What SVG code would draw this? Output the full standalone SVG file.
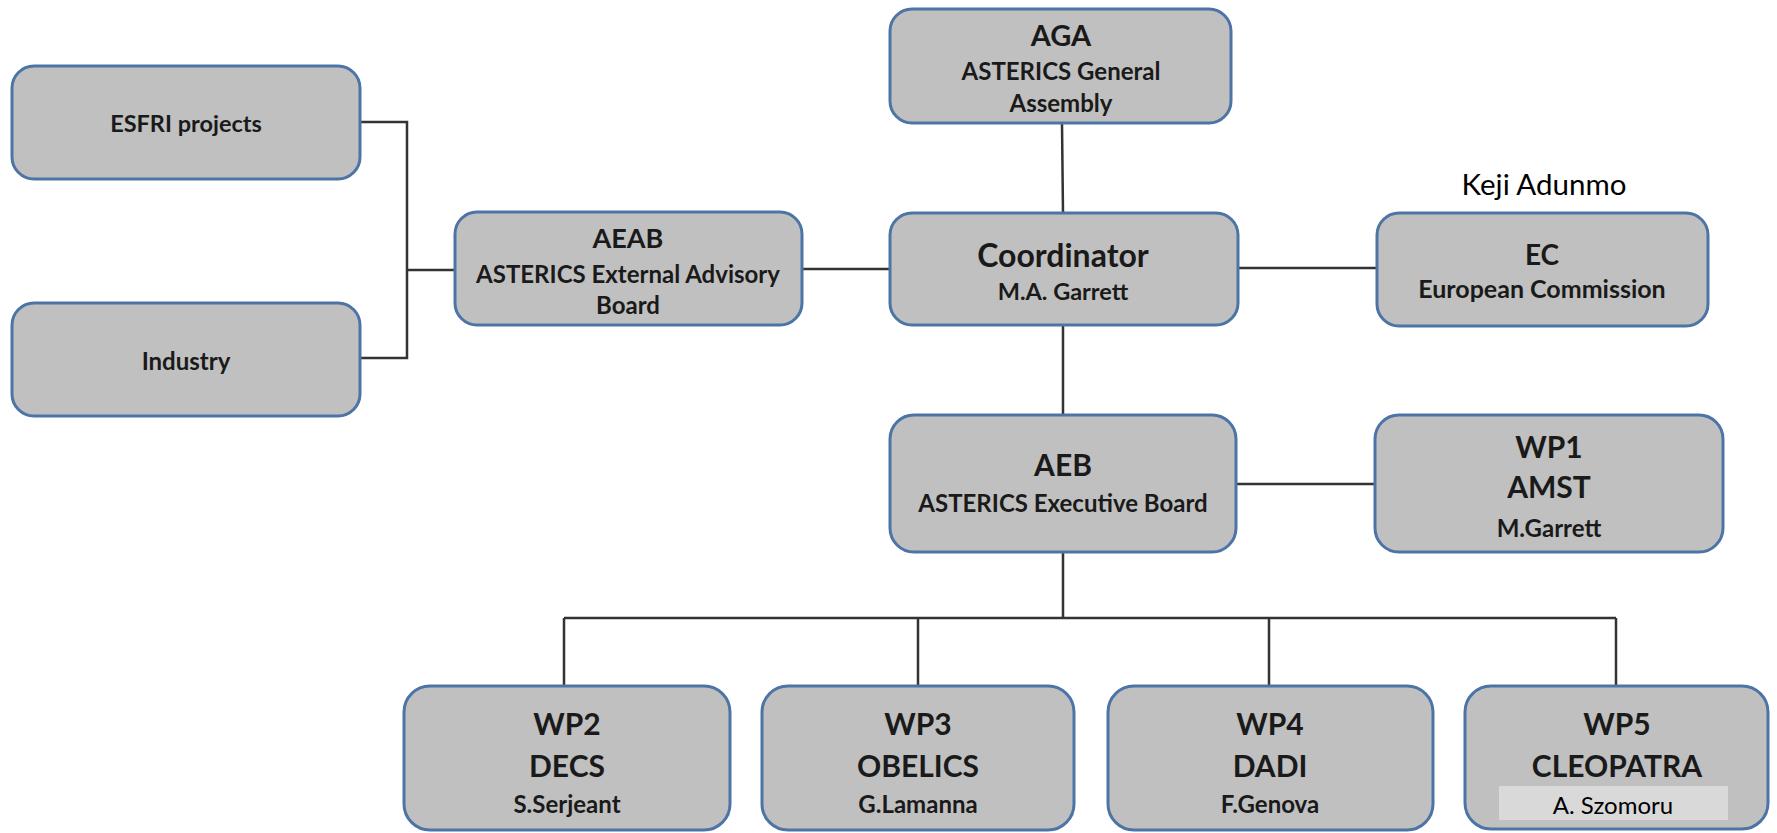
<svg xmlns="http://www.w3.org/2000/svg" width="1777" height="833" viewBox="0 0 1777 833">
<style>
.box{fill:#c0c0c0;stroke:#4d74a6;stroke-width:3}
.t{font-family:Lato,"Liberation Sans",sans-serif;font-weight:700;fill:#1a1a1a;text-anchor:middle}
.h{font-size:30px}
.s{font-size:24px}
.n{font-family:Lato,"Liberation Sans",sans-serif;font-weight:400;fill:#000;text-anchor:middle}
.c{fill:none;stroke:#333;stroke-width:2.5}
</style>
<rect width="1777" height="833" fill="#fff"/>
<g id="connectors">
<path class="c" d="M360,122H407V358H360M407,270H455"/>
<path class="c" d="M802,269H890"/>
<path class="c" d="M1062,124L1063,213"/>
<path class="c" d="M1238,268H1377"/>
<path class="c" d="M1063,325V415"/>
<path class="c" d="M1236,484H1375"/>
<path class="c" d="M1063,552V618M564,618H1616M564,618V686M918,618V686M1269,618V686M1616,618V686"/>
</g>
<g id="esfri">
<rect class="box" x="12" y="66" width="348" height="113" rx="22"/>
<text class="t" x="186" y="132" font-size="23.5">ESFRI projects</text>
</g>
<g id="industry">
<rect class="box" x="12" y="303" width="348" height="113" rx="22"/>
<text class="t" x="186" y="370" font-size="24">Industry</text>
</g>
<g id="aga">
<rect class="box" x="890" y="9" width="341" height="114" rx="22"/>
<text class="t" x="1061" y="46" font-size="29">AGA</text>
<text class="t s" x="1061" y="80">ASTERICS General</text>
<text class="t s" x="1061" y="112">Assembly</text>
</g>
<g id="aeab">
<rect class="box" x="455" y="212" width="347" height="113" rx="22"/>
<text class="t" x="628" y="248" font-size="27">AEAB</text>
<text class="t s" x="628" y="283">ASTERICS External Advisory</text>
<text class="t s" x="628" y="314">Board</text>
</g>
<g id="coordinator">
<rect class="box" x="890" y="213" width="348" height="112" rx="22"/>
<text class="t" x="1063" y="267" font-size="32">Coordinator</text>
<text class="t" x="1063" y="300" font-size="23.5">M.A. Garrett</text>
</g>
<g id="ec">
<rect class="box" x="1377" y="213" width="331" height="113" rx="22"/>
<text class="t" x="1542" y="265" font-size="28">EC</text>
<text class="t" x="1542" y="298" font-size="25">European Commission</text>
</g>
<text class="n" x="1544" y="195" font-size="29.5">Keji Adunmo</text>
<g id="aeb">
<rect class="box" x="890" y="415" width="346" height="137" rx="24"/>
<text class="t" x="1063" y="476" font-size="30">AEB</text>
<text class="t" x="1063" y="512" font-size="24">ASTERICS Executive Board</text>
</g>
<g id="wp1">
<rect class="box" x="1375" y="415" width="348" height="137" rx="24"/>
<text class="t h" x="1549" y="458">WP1</text>
<text class="t h" x="1549" y="498">AMST</text>
<text class="t" x="1549" y="537" font-size="24">M.Garrett</text>
</g>
<g id="wp2">
<rect class="box" x="404" y="686" width="326" height="144" rx="26"/>
<text class="t h" x="567" y="735">WP2</text>
<text class="t h" x="567" y="777">DECS</text>
<text class="t" x="567" y="813" font-size="24">S.Serjeant</text>
</g>
<g id="wp3">
<rect class="box" x="762" y="686" width="312" height="144" rx="26"/>
<text class="t h" x="918" y="735">WP3</text>
<text class="t h" x="918" y="777">OBELICS</text>
<text class="t" x="918" y="813" font-size="24">G.Lamanna</text>
</g>
<g id="wp4">
<rect class="box" x="1108" y="686" width="325" height="144" rx="26"/>
<text class="t h" x="1270" y="735">WP4</text>
<text class="t h" x="1270" y="777">DADI</text>
<text class="t" x="1270" y="813" font-size="24">F.Genova</text>
</g>
<g id="wp5">
<rect class="box" x="1465" y="686" width="303" height="143" rx="26"/>
<text class="t h" x="1617" y="735">WP5</text>
<text class="t h" x="1617" y="777">CLEOPATRA</text>
<rect x="1499" y="786" width="229" height="34" fill="#d9d9d9"/>
<text class="n" x="1613" y="814" font-size="24">A. Szomoru</text>
</g>
</svg>
